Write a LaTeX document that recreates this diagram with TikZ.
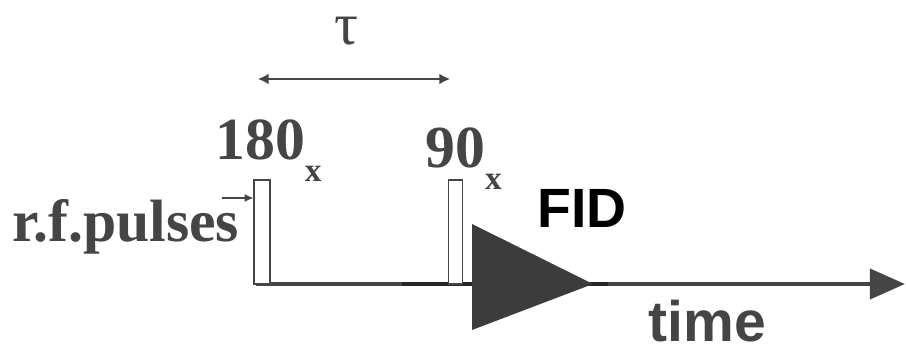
\documentclass[tikz,border=0pt]{standalone}
\usepackage{fontspec}
\setmainfont{Liberation Serif}
\setsansfont{Liberation Sans}
\usetikzlibrary{arrows.meta}
\definecolor{ink}{HTML}{454545}
\definecolor{fidgray}{HTML}{3C3C3C}
\newcommand{\pulsename}[2]{#1\raisebox{-12pt}{\fontsize{19}{19}\selectfont #2}}

\begin{document}
\begin{tikzpicture}[x=0.02cm, y=-0.02cm,
	pulse/.style={draw=ink, line width=0.9pt, fill=white, inner sep=0pt, anchor=south},
	serifbold/.style={font=\fontsize{34}{36}\selectfont\bfseries, text=ink, inner sep=0pt, anchor=base west},
	sansbold/.style={font=\fontsize{31.5}{33}\selectfont\sffamily\bfseries, inner sep=0pt, anchor=base west}]
	\useasboundingbox (0,0) rectangle (906,354);

	% time axis
	\coordinate (t0) at (256,284);
	\coordinate (t1) at (905,284);
	\coordinate (d0) at (402,284);
	\coordinate (d1) at (608,284);
	\draw [ink, line width=2.6pt, -{Triangle[length=20pt,width=17pt]}] (t0) -- (t1);
	\draw [black!85, line width=2.6pt] (d0) -- (d1);

	% pulses
	\node [pulse, minimum width=0.31cm, minimum height=2.08cm] at (262,285) (p180) {};
	\node [pulse, minimum width=0.28cm, minimum height=2.08cm] at (455.5,285) (p90) {};
	\node [serifbold] at (215,160) (l180) {\pulsename{180}{x}};
	\node [serifbold] at (425,168) (l90) {\pulsename{90}{x}};

	% FID
	\coordinate (f0) at (472,224);
	\coordinate (f1) at (472,330);
	\coordinate (f2) at (593,284);
	\fill [fidgray] (f0) -- (f2) -- (f1) -- cycle;
	\node [sansbold] at (537,228) (fid) {FID};
	\node [sansbold, text=ink, font=\fontsize{32.5}{34}\selectfont\sffamily\bfseries] at (648,342) (time) {time};

	% r.f. pulses label
	\node [serifbold] at (12,242) (rf) {r.f.pulses};
	\coordinate (rfarrow) at (222,198);
	\draw [ink, line width=0.7pt, -{Latex[length=5pt,width=4.5pt]}] (rfarrow) -- (rfarrow -| p180.west);

	% delay tau
	\coordinate (a0) at (258,79);
	\coordinate (a1) at (450,79);
	\draw [ink, line width=0.7pt, {Latex[length=6pt,width=6pt]}-{Latex[length=6pt,width=6pt]}] (a0) -- (a1);
	\node [font=\fontsize{34}{36}\selectfont, text=ink, inner sep=0pt] at (346,31) (tau) {τ};
\end{tikzpicture}
\end{document}
